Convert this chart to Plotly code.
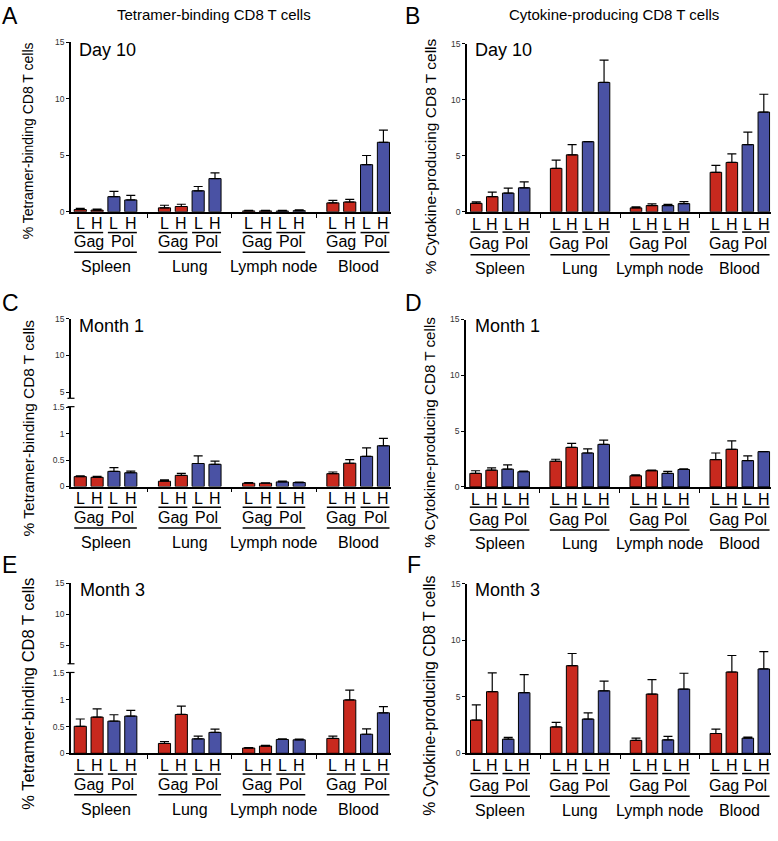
import plotly.graph_objects as go

# ---------------- data ----------------
tissues = ["Spleen", "Lung", "Lymph node", "Blood"]
antigens = ["Gag", "Pol"]
doses = ["L", "H"]

# values listed per tissue as (L, H); errors are upper SEM
A_gag = [0.20, 0.15, 0.35, 0.47, 0.08, 0.08, 0.79, 0.87]
A_gag_err = [0.10, 0.10, 0.23, 0.20, 0.04, 0.04, 0.23, 0.23]
A_pol = [1.34, 1.05, 1.86, 2.94, 0.07, 0.10, 4.17, 6.15]
A_pol_err = [0.46, 0.41, 0.38, 0.50, 0.05, 0.07, 0.81, 1.07]

B_gag = [0.76, 1.35, 3.87, 5.08, 0.35, 0.56, 3.52, 4.40]
B_gag_err = [0.12, 0.41, 0.74, 0.91, 0.09, 0.14, 0.62, 0.77]
B_pol = [1.67, 2.14, 6.25, 11.53, 0.56, 0.73, 5.99, 8.89]
B_pol_err = [0.44, 0.53, 0.0, 2.00, 0.11, 0.18, 1.11, 1.59]

C_gag = [0.187, 0.174, 0.10, 0.21, 0.062, 0.062, 0.243, 0.44]
C_gag_err = [0.015, 0.016, 0.025, 0.04, 0.013, 0.006, 0.031, 0.07]
C_pol = [0.286, 0.26, 0.435, 0.42, 0.087, 0.075, 0.57, 0.77]
C_pol_err = [0.07, 0.03, 0.145, 0.06, 0.013, 0.006, 0.16, 0.14]

D_gag = [1.21, 1.50, 2.30, 3.54, 1.00, 1.45, 2.45, 3.37]
D_gag_err = [0.24, 0.21, 0.18, 0.36, 0.09, 0.05, 0.59, 0.76]
D_pol = [1.59, 1.36, 3.04, 3.81, 1.21, 1.56, 2.36, 3.16]
D_pol_err = [0.39, 0.06, 0.36, 0.38, 0.18, 0.06, 0.42, 0.0]

E_gag = [0.504, 0.676, 0.184, 0.725, 0.098, 0.135, 0.277, 0.996]
E_gag_err = [0.136, 0.154, 0.036, 0.155, 0.006, 0.013, 0.043, 0.184]
E_pol = [0.60, 0.695, 0.27, 0.39, 0.258, 0.252, 0.356, 0.756]
E_pol_err = [0.12, 0.105, 0.05, 0.06, 0.012, 0.012, 0.10, 0.117]

F_gag = [2.94, 5.45, 2.33, 7.75, 1.14, 5.24, 1.75, 7.19]
F_gag_err = [1.34, 1.66, 0.41, 1.08, 0.20, 1.28, 0.38, 1.46]
F_pol = [1.25, 5.36, 3.03, 5.53, 1.19, 5.68, 1.34, 7.46]
F_pol_err = [0.15, 1.60, 0.55, 0.85, 0.30, 1.40, 0.09, 1.54]

col_titles = ["Tetramer-binding CD8 T cells", "Cytokine-producing CD8 T cells"]
y_titles = ["% Tetramer-binding CD8 T cells", "% Cytokine-producing CD8 T cells"]
timepoints = ["Day 10", "Month 1", "Month 3"]
main_ticks = [0, 5, 10, 15]
low_ticks = [0, 0.5, 1, 1.5]
low_ticktext = ["0", "0.5", "1", "1.5"]
top_ticks = [5, 10, 15]

# ---------------- layout geometry (pixels) ----------------
W, H = 778, 841
RED = "#C8291E"
BLUE = "#4A52A4"
FONT = "Arial, Liberation Sans, sans-serif"


def px(x):
    return x / W


def py(y):
    return 1 - y / H


panels = [
    dict(letter="A", gag=A_gag, gerr=A_gag_err, pol=A_pol, perr=A_pol_err, col=0, row=0,
         xdom=(71, 391), xr=(-0.55, 18.45), y0=209.3, y15=37.7, broken=None,
         ytfs=14, ytc=138, off=(12, 21, 30.5, 41, 55)),
    dict(letter="B", gag=B_gag, gerr=B_gag_err, pol=B_pol, perr=B_pol_err, col=1, row=0,
         xdom=(467, 771), xr=(-0.58, 18.45), y0=209.3, y15=39, broken=None,
         ytfs=15.5, ytc=153, off=(12.5, 20.5, 32.5, 43.5, 57.5)),
    dict(letter="C", gag=C_gag, gerr=C_gag_err, pol=C_pol, perr=C_pol_err, col=0, row=1,
         xdom=(71, 391), xr=(-0.55, 18.45), y0=487.3, y15=407,
         broken=dict(top=317.7, bot=398, lo=4.15), ytfs=15.4, ytc=428.5,
         off=(12, 21, 31.5, 42, 57)),
    dict(letter="D", gag=D_gag, gerr=D_gag_err, pol=D_pol, perr=D_pol_err, col=1, row=1,
         xdom=(466, 771), xr=(-0.6, 18.45), y0=487.7, y15=318.3, broken=None,
         ytfs=15.2, ytc=433, off=(12.5, 20.5, 32.5, 43.5, 57.5)),
    dict(letter="E", gag=E_gag, gerr=E_gag_err, pol=E_pol, perr=E_pol_err, col=0, row=2,
         xdom=(71, 391), xr=(-0.55, 18.45), y0=757.3, y15=676,
         broken=dict(top=585.3, bot=666.7, lo=1.96), ytfs=16.5, ytc=697,
         off=(12, 21, 31.5, 42, 57)),
    dict(letter="F", gag=F_gag, gerr=F_gag_err, pol=F_pol, perr=F_pol_err, col=1, row=2,
         xdom=(467, 771), xr=(-0.58, 18.45), y0=757.3, y15=585.7, broken=None,
         ytfs=15.8, ytc=699, off=(12.5, 20.5, 32.5, 43.5, 57.5)),
]

letter_pos = {"A": (0, 11), "B": (403, 11), "C": (0, 302), "D": (403, 302), "E": (0, 567), "F": (405, 567)}
tp_pos = {"A": (77, 46), "B": (473, 46), "C": (77, 325), "D": (473, 325), "E": (78, 592), "F": (473, 592)}


def xpos(a):
    return [t * 5 + a * 2 + d for t in range(len(tissues)) for d in range(len(doses))]


fig = go.Figure()
layout = dict(width=W, height=H, margin=dict(l=0, r=0, t=0, b=0),
              paper_bgcolor="white", plot_bgcolor="white", barmode="overlay",
              showlegend=False, font=dict(family=FONT, color="black"))
annotations = []
shapes = []

extra_n = 7
for i, p in enumerate(panels):
    n = i + 1
    xa = "x" if n == 1 else f"x{n}"
    ya = "y" if n == 1 else f"y{n}"
    xkey = "xaxis" if n == 1 else f"xaxis{n}"
    ykey = "yaxis" if n == 1 else f"yaxis{n}"
    for a, (vals, errs, color) in enumerate([(p["gag"], p["gerr"], RED), (p["pol"], p["perr"], BLUE)]):
        fig.add_trace(go.Bar(
            x=xpos(a), y=vals, width=0.72, xaxis=xa, yaxis=ya,
            marker=dict(color=color, line=dict(color="black", width=1)),
            error_y=dict(type="data", array=errs, arrayminus=[0] * len(errs), symmetric=False,
                         color="black", thickness=1.2, width=4.5),
            name=antigens[a]))
    layout[xkey] = dict(domain=[px(p["xdom"][0]), px(p["xdom"][1])], range=list(p["xr"]),
                        anchor=ya, showline=True, linecolor="black", linewidth=1.5,
                        showgrid=False, zeroline=False, tickvals=[4, 9, 14], ticks="outside",
                        ticklen=4, tickwidth=1, tickcolor="black", showticklabels=False,
                        fixedrange=True)
    yax = dict(domain=[py(p["y0"]), py(p["y15"])], anchor=xa, showline=True, linecolor="black",
               linewidth=1.5, showgrid=False, zeroline=False, ticks="outside", ticklen=3,
               tickwidth=1, tickcolor="black", tickfont=dict(size=8.5, color="#333"),
               fixedrange=True)
    if p["broken"] is None:
        yax.update(range=[0, 15], tickvals=main_ticks)
    else:
        yax.update(range=[0, 1.5], tickvals=low_ticks, ticktext=low_ticktext)
        b = p["broken"]
        yk2 = f"yaxis{extra_n}"
        ya2 = f"y{extra_n}"
        layout[yk2] = dict(domain=[py(b["bot"]), py(b["top"])], anchor=xa, range=[b["lo"], 15],
                           tickvals=top_ticks, showline=True, linecolor="black", linewidth=1.5,
                           showgrid=False, zeroline=False, ticks="outside", ticklen=3,
                           tickwidth=1, tickcolor="black", tickfont=dict(size=8.5, color="#333"),
                           fixedrange=True)
        fig.add_trace(go.Scatter(x=[None], y=[None], xaxis=xa, yaxis=ya2, mode="markers",
                                 showlegend=False, hoverinfo="skip"))
        ax = p["xdom"][0]
        for yy in (b["bot"], p["y15"] - 0.5):
            shapes.append(dict(type="line", xref="paper", yref="paper",
                               x0=px(ax - 3.5), x1=px(ax + 3.5), y0=py(yy), y1=py(yy),
                               line=dict(color="black", width=1.2)))
        extra_n += 1
    layout[ykey] = yax

    # category labels
    off = p["off"]
    y0 = p["y0"]
    for t, tissue in enumerate(tissues):
        base = t * 5
        for a, ag in enumerate(antigens):
            for d, ds in enumerate(doses):
                annotations.append(dict(text=ds, x=base + a * 2 + d, xref=xa, y=py(y0 + off[0]),
                                        yref="paper", showarrow=False, xanchor="center",
                                        yanchor="middle", font=dict(size=16)))
            shapes.append(dict(type="line", xref=xa, yref="paper", x0=base + a * 2 - 0.36,
                               x1=base + a * 2 + 1.36, y0=py(y0 + off[1]), y1=py(y0 + off[1]),
                               line=dict(color="black", width=1.5)))
            annotations.append(dict(text=ag, x=base + a * 2 + 0.5, xref=xa, y=py(y0 + off[2]),
                                    yref="paper", showarrow=False, xanchor="center",
                                    yanchor="middle", font=dict(size=16)))
        shapes.append(dict(type="line", xref=xa, yref="paper", x0=base - 0.36, x1=base + 3.36,
                           y0=py(y0 + off[3]), y1=py(y0 + off[3]),
                           line=dict(color="black", width=1.5)))
        annotations.append(dict(text=tissue, x=base + 1.5, xref=xa, y=py(y0 + off[4]),
                                yref="paper", showarrow=False, xanchor="center",
                                yanchor="middle", font=dict(size=16)))

    # y title
    ytx = 28 if p["col"] == 0 else 430
    annotations.append(dict(text=y_titles[p["col"]], x=px(ytx), y=py(p["ytc"]), xref="paper",
                            yref="paper", textangle=-90, showarrow=False, xanchor="center",
                            yanchor="middle", font=dict(size=p["ytfs"])))
    # panel letter
    lx, ly = letter_pos[p["letter"]]
    annotations.append(dict(text=p["letter"], x=px(lx), y=py(ly), xref="paper", yref="paper",
                            showarrow=False, xanchor="left", yanchor="middle",
                            font=dict(size=23)))
    # time point
    tx, ty = tp_pos[p["letter"]]
    annotations.append(dict(text=timepoints[p["row"]], x=px(tx), y=py(ty), xref="paper",
                            yref="paper", showarrow=False, xanchor="left", yanchor="middle",
                            font=dict(size=18)))

# column titles
for c, (cx, title) in enumerate(zip([214, 614], col_titles)):
    annotations.append(dict(text=title, x=px(cx), y=py(9.5), xref="paper", yref="paper",
                            showarrow=False, xanchor="center", yanchor="middle",
                            font=dict(size=15)))

layout["annotations"] = annotations
layout["shapes"] = shapes
fig.update_layout(**layout)
fig.write_html("out.html", config={"displayModeBar": False},
               post_script="document.body.style.margin='0px';document.body.style.overflow='hidden';")
